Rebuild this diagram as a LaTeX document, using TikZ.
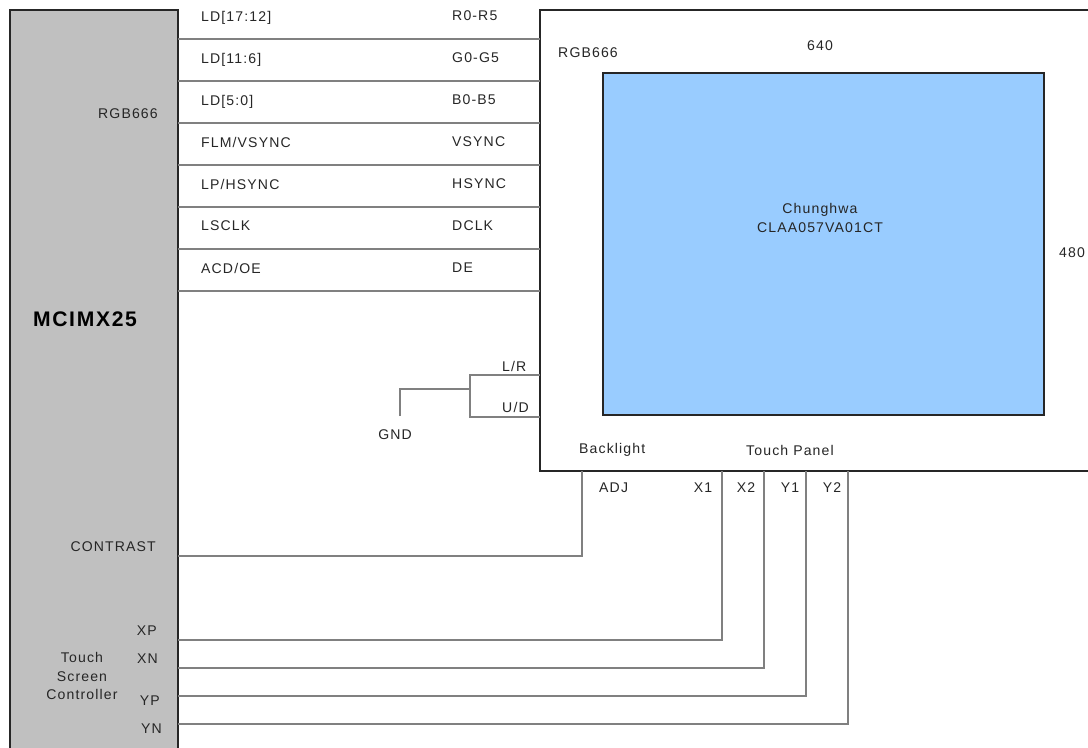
\documentclass[tikz,border=0pt]{standalone}
\usepackage{fontspec}
\setmainfont[LetterSpace=8]{Liberation Sans}
\usetikzlibrary{positioning}
\definecolor{chipgray}{RGB}{192,192,192}
\definecolor{panelblue}{RGB}{153,204,255}
\definecolor{wiregray}{RGB}{128,128,128}
\tikzset{
  box/.style={draw=black!85,line width=1.5pt,inner sep=0pt,outer sep=0pt,anchor=north west},
  wire/.style={draw=wiregray,line width=2pt},
  lbl/.style={font=\fontsize{12}{16}\selectfont,inner sep=0pt,text=black!85},
  lblw/.style={lbl,anchor=west},
  lble/.style={lbl,anchor=east}
}
\begin{document}
\begin{tikzpicture}[x=0.03cm,y=-0.03cm]
        \useasboundingbox (0,0) rectangle (1088,747);
        % pixel sizes of the boxes
        \def\pw{0.03cm}
        \node[box,fill=chipgray,minimum width=168*\pw,minimum height=760*\pw] (chip) at (10,10) {};
        \node[box,fill=white,minimum width=560*\pw,minimum height=461*\pw] (lcd) at (540,10) {};
        \node[box,fill=panelblue,minimum width=441*\pw,minimum height=342*\pw] (panel) at (603,73) {};
        % parallel bus
        \foreach \y in {39,81,123,165,207,249,291}
          \draw[wire] (chip.east|-0,\y) -- (lcd.west|-0,\y);
        \node[lblw] (ld1) at (201,18) {LD[17:12]};
        \node[lblw] (ld2) at (201,60) {LD[11:6]};
        \node[lblw] (ld3) at (201,102) {LD[5:0]};
        \node[lblw] (ld4) at (201,142) {FLM/VSYNC};
        \node[lblw] (ld5) at (201,184) {LP/HSYNC};
        \node[lblw] (ld6) at (201,226) {LSCLK};
        \node[lblw] (ld7) at (201,268) {ACD/OE};
        \node[lblw] (rr) at (452,16) {R0-R5};
        \node[lblw] (gg) at (452,58) {G0-G5};
        \node[lblw] (bb) at (452,100) {B0-B5};
        \node[lblw] (vs) at (452,142) {VSYNC};
        \node[lblw] (hs) at (452,184) {HSYNC};
        \node[lblw] (dc) at (452,226) {DCLK};
        \node[lblw] (de) at (452,268) {DE};
        % inside the chip
        \node[lble] (rgbl) at (158,114) {RGB666};
        \node[font=\fontsize{18}{20}\selectfont\bfseries,inner sep=0pt] (name) at (85,319) {MCIMX25};
        \node[lble] (con) at (156,547) {CONTRAST};
        \node[lble] (xp) at (157,631) {XP};
        \node[lble] (xn) at (158,659) {XN};
        \node[lble] (yp) at (160,701) {YP};
        \node[lble] (yn) at (162,729) {YN};
        \node[lbl,align=center] (tsc) at (82,676) {Touch\\Screen\\Controller};
        % inside the display
        \node[lblw] (rgbr) at (558,53) {RGB666};
        \node[lbl] (wide) at (820,46) {640};
        \node[lbl] (high) at (1072,253) {480};
        \node[lbl,align=center] (model) at (820,218) {Chunghwa\\CLAA057VA01CT};
        \node[lblw] (bl) at (579,450) {Backlight};
        \node[lblw] (tp) at (746,450) {Touch Panel};
        % strapping
        \coordinate (gndtop) at (400,389);
        \coordinate (gndend) at (400,416);
        \coordinate (split) at (470,389);
        \node[lbl] (gnd) at (395,435) {GND};
        \draw[wire] (gndend) -- (gndtop) -- (split);
        \draw[wire] (lcd.west|-0,375) -| (split);
        \draw[wire] (lcd.west|-0,417) -| (split);
        \node[lblw] (lr) at (502,366) {L/R};
        \node[lblw] (ud) at (502,407) {U/D};
        % backlight and touch
        \draw[wire] (chip.east|-0,556) -| (lcd.south-|582,0);
        \draw[wire] (chip.east|-0,640) -| (lcd.south-|722,0);
        \draw[wire] (chip.east|-0,668) -| (lcd.south-|764,0);
        \draw[wire] (chip.east|-0,696) -| (lcd.south-|806,0);
        \draw[wire] (chip.east|-0,724) -| (lcd.south-|848,0);
        \node[lblw] (adj) at (599,488) {ADJ};
        \node[lbl] (x1) at (703,488) {X1};
        \node[lbl] (x2) at (746,488) {X2};
        \node[lbl] (y1) at (790,488) {Y1};
        \node[lbl] (y2) at (832,488) {Y2};
      \end{tikzpicture}
\end{document}
